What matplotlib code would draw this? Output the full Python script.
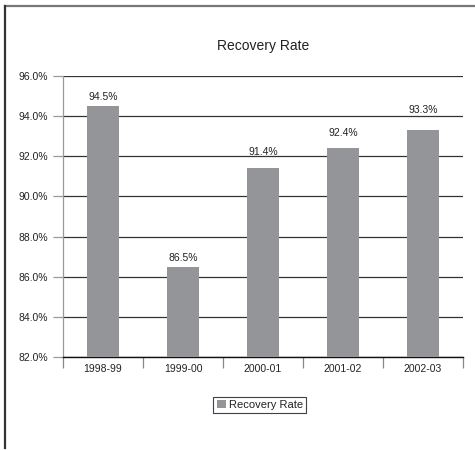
import matplotlib
matplotlib.use("Agg")
import matplotlib.pyplot as plt
from matplotlib.lines import Line2D
import numpy as np

plt.rcParams["font.family"] = ["Liberation Sans", "DejaVu Sans"]

years = ["1998-99", "1999-00", "2000-01", "2001-02", "2002-03"]
recovery_rate = [94.5, 86.5, 91.4, 92.4, 93.3]
y_ticks = [82, 84, 86, 88, 90, 92, 94, 96]

# distancia (pt) de cada etiqueta sobre su barra
label_offsets = [6.5, 6.5, 11.5, 10.8, 14.4]

BAR_COLOR = "#939598"
TEXT_COLOR = "#222222"

fig = plt.figure(figsize=(4.75, 4.5), dpi=100)
ax = fig.add_axes([0.1326, 0.2067, 0.842, 0.6244])

x = np.arange(len(years))
ax.bar(x, recovery_rate, width=0.4, color=BAR_COLOR, zorder=3, label="Recovery Rate")
for xi, v, off in zip(x, recovery_rate, label_offsets):
    ax.annotate(f"{v:.1f}%", (xi, v), xytext=(0, off), textcoords="offset points",
                ha="center", va="center", fontsize=7.5, color=TEXT_COLOR, zorder=4)

ax.set_xlim(-0.5, len(years) - 0.5)
ax.set_ylim(82, 96)
ax.set_yticks(y_ticks)
ax.set_yticklabels([f"{t:.1f}%" for t in y_ticks])
ax.yaxis.grid(True, color="#333333", linewidth=0.9, zorder=1)
ax.set_axisbelow(True)

# categorías: etiquetas centradas, marcas en los bordes de cada grupo
ax.set_xticks(x)
ax.set_xticklabels(years)
ax.set_xticks(np.arange(len(years) + 1) - 0.5, minor=True)
ax.tick_params(axis="x", which="major", length=0, pad=5, labelsize=7.5, labelcolor=TEXT_COLOR)
ax.tick_params(axis="x", which="minor", length=8, width=0.9, color="#888888", direction="out")
ax.tick_params(axis="y", length=7, width=0.9, color="#999999", pad=4, labelsize=7.5,
               labelcolor=TEXT_COLOR)

for side in ("top", "right"):
    ax.spines[side].set_visible(False)
ax.spines["left"].set_color("#999999")
ax.spines["left"].set_linewidth(0.9)
ax.spines["bottom"].set_color("#111111")
ax.spines["bottom"].set_linewidth(1.0)

ax.set_title("Recovery Rate", fontsize=10, color=TEXT_COLOR, pad=19)

leg = fig.legend(loc="center", bbox_to_anchor=(0.547, 0.1), fontsize=8, frameon=True,
                 fancybox=False, handlelength=0.8, handleheight=0.8, handletextpad=0.3,
                 borderpad=0.3, borderaxespad=0)
leg.get_frame().set_edgecolor("#111111")
leg.get_frame().set_linewidth(0.8)
for t in leg.get_texts():
    t.set_color(TEXT_COLOR)

# marco exterior: solo borde superior e izquierdo
fig.add_artist(Line2D([5 / 475, 1.0], [1 - 6 / 450, 1 - 6 / 450], transform=fig.transFigure,
                      color="#777777", linewidth=1.6))
fig.add_artist(Line2D([5 / 475, 5 / 475], [1 - 6 / 450, 2 / 450], transform=fig.transFigure,
                      color="#333333", linewidth=1.6))

fig.savefig("out.png", dpi=100)
